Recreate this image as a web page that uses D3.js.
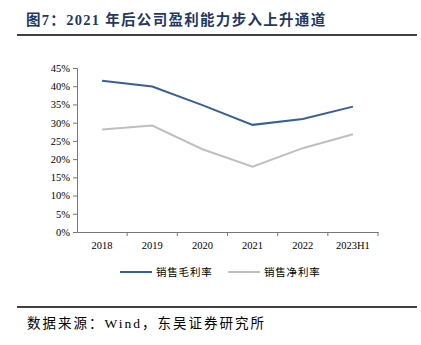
<!DOCTYPE html>
<html><head><meta charset="utf-8">
<script src="https://cdn.jsdelivr.net/npm/d3@7"></script>
<style>body{margin:0;background:#fff}svg{display:block}</style>
</head><body>
<svg id="c" width="421" height="345"></svg>
<script>
const categories = ["2018","2019","2020","2021","2022","2023H1"];
const grossMargin = [41.5, 39.9, 34.8, 29.4, 31.0, 34.4];
const netMargin = [28.1, 29.2, 22.7, 17.9, 23.0, 26.8];
const yTicks = [0,5,10,15,20,25,30,35,40,45];
const seriesNames = ["销售毛利率","销售净利率"];
const colors = ["#36609A","#BFBFBF"];

const svg = d3.select("#c");
const serif = "'Liberation Serif','Times New Roman',serif";
const cjk = "'Liberation Serif','Noto Sans CJK SC',serif";

svg.append("text").attr("x",26).attr("y",25).attr("font-family",cjk).attr("font-weight","bold")
  .attr("font-size",14.5).attr("letter-spacing",1.3).attr("fill","#1F3864").text("图7：2021 年后公司盈利能力步入上升通道");
svg.append("line").attr("x1",17).attr("x2",417).attr("y1",35).attr("y2",35).attr("stroke","#000").attr("stroke-width",1.5);
svg.append("line").attr("x1",17).attr("x2",417).attr("y1",307).attr("y2",307).attr("stroke","#000").attr("stroke-width",1.5);
svg.append("text").attr("x",27).attr("y",328).attr("font-family",cjk).attr("font-size",13.5).attr("letter-spacing",2)
  .attr("fill","#000").text("数据来源：Wind，东吴证券研究所");

const x = d3.scaleBand().domain(categories).range([77,378]);
const y = d3.scaleLinear().domain([0,45]).range([232,68]);

const xAxis = svg.append("g").attr("transform","translate(0,232)")
  .call(d3.axisBottom(x).tickSize(0).tickPadding(10));
xAxis.selectAll("text").attr("font-family",serif).attr("font-size",10.5).attr("fill","#000");
xAxis.select(".domain").attr("stroke","#777");
xAxis.selectAll(".sep").data(categories).enter().append("line").attr("class","sep")
  .attr("x1",d=>x(d)+x.bandwidth()).attr("x2",d=>x(d)+x.bandwidth()).attr("y1",0).attr("y2",4).attr("stroke","#777");

const yAxis = svg.append("g").attr("transform","translate(77,0)")
  .call(d3.axisLeft(y).tickValues(yTicks).tickFormat(d=>d+"%").tickSize(4).tickPadding(3));
yAxis.selectAll("text").attr("font-family",serif).attr("font-size",10.5).attr("fill","#000");
yAxis.select(".domain").attr("stroke","#777");
yAxis.selectAll(".tick line").attr("stroke","#777");

const line = d3.line().x((d,i)=>x(categories[i])+x.bandwidth()/2).y(d=>y(d));
[grossMargin, netMargin].forEach((s,i)=>{
  svg.append("path").datum(s).attr("d",line).attr("fill","none").attr("stroke",colors[i]).attr("stroke-width",2);
});

const lx = [120, 228];
seriesNames.forEach((n,i)=>{
  svg.append("line").attr("x1",lx[i]).attr("x2",lx[i]+32).attr("y1",272).attr("y2",272).attr("stroke",colors[i]).attr("stroke-width",2);
  svg.append("text").attr("x",lx[i]+36).attr("y",276).attr("font-family",cjk).attr("font-size",10.5).attr("letter-spacing",0.8).attr("fill","#000").text(n);
});
</script>
</body></html>
